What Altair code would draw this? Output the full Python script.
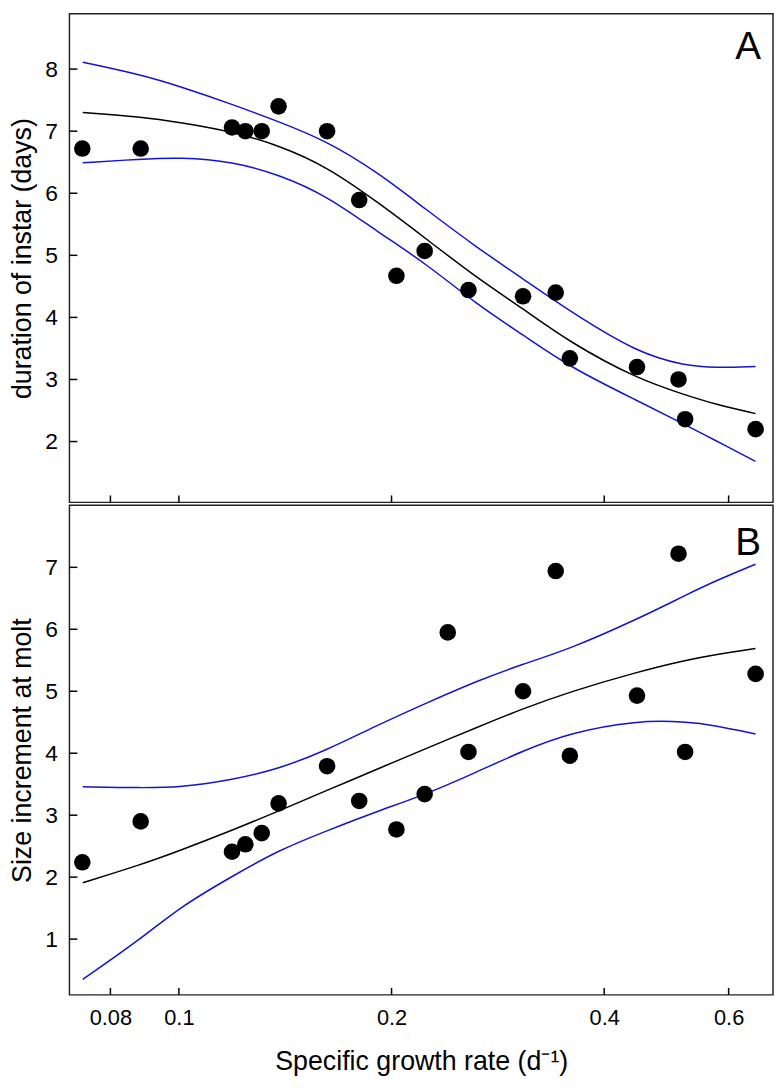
import altair as alt
import pandas as pd

FONT = "Liberation Sans"
BLUE = "#1414cc"

# ---- observed points ----
rate_a = [0.0730, 0.0883, 0.1189, 0.1242, 0.1310, 0.1384, 0.1621, 0.1800, 0.2032,
          0.2228, 0.2570, 0.3070, 0.3415, 0.3576, 0.4451, 0.5096, 0.5207, 0.6552]
dur_a = [6.72, 6.72, 7.06, 7.00, 7.00, 7.40, 7.00, 5.89, 4.67,
         5.07, 4.44, 4.34, 4.40, 3.34, 3.20, 3.00, 2.36, 2.20]

rate_b = [0.0730, 0.0883, 0.1189, 0.1242, 0.1310, 0.1384, 0.1621, 0.1800, 0.2032,
          0.2228, 0.2402, 0.2570, 0.3070, 0.3415, 0.3576, 0.4451, 0.5096, 0.5207, 0.6552]
size_b = [2.24, 2.90, 2.41, 2.53, 2.71, 3.19, 3.79, 3.23, 2.77,
          3.34, 5.95, 4.02, 5.00, 6.94, 3.96, 4.93, 7.22, 4.02, 5.28]

# ---- fitted curves and confidence bands ----
curve_rate = [0.0731, 0.0883, 0.1004, 0.1192, 0.1387, 0.1620, 0.1916, 0.2230,
              0.2646, 0.3070, 0.3573, 0.4451, 0.5213, 0.5744, 0.6550]
fit_a = [7.30, 7.23, 7.14, 6.99, 6.77, 6.43, 5.85, 5.28, 4.63, 4.14, 3.60, 3.01, 2.75, 2.60, 2.45]
upper_a = [8.11, 7.91, 7.72, 7.43, 7.15, 6.84, 6.33, 5.75, 5.12, 4.62, 4.10, 3.43, 3.22, 3.19, 3.21]
lower_a = [6.49, 6.55, 6.58, 6.51, 6.30, 5.96, 5.37, 4.88, 4.20, 3.72, 3.20, 2.66, 2.27, 2.02, 1.68]

fit_b = [1.91, 2.20, 2.43, 2.76, 3.07, 3.40, 3.75, 4.07, 4.42, 4.72, 4.99, 5.31, 5.50, 5.59, 5.69]
upper_b = [3.46, 3.44, 3.45, 3.57, 3.75, 4.05, 4.46, 4.80, 5.17, 5.44, 5.68, 6.16, 6.55, 6.78, 7.05]
lower_b = [0.35, 1.00, 1.52, 2.02, 2.44, 2.75, 3.07, 3.33, 3.70, 4.04, 4.33, 4.53, 4.51, 4.45, 4.31]

x_ticks = [0.08, 0.1, 0.2, 0.4, 0.6]
y_ticks_a = [2, 3, 4, 5, 6, 7, 8]
y_ticks_b = [1, 2, 3, 4, 5, 6, 7]

X_DOMAIN = [0.07, 0.6934]
W = 710


def panel(rates, values, fit, upper, lower, ydom, yticks, ytitle, letter, letter_y, h, show_x):
    xscale = alt.Scale(type="log", domain=X_DOMAIN, nice=False)
    yscale = alt.Scale(domain=ydom, nice=False, zero=False)
    if show_x:
        xaxis = alt.Axis(values=x_ticks, format=".2~f", ticks=False, domain=False, grid=False,
                         labelFontSize=22, labelPadding=13, labelColor="black", labelFont=FONT,
                         title="Specific growth rate (d\u207b\u00b9)", titleFontSize=27,
                         titleFontWeight="normal", titleColor="black", titleFont=FONT,
                         titlePadding=20)
    else:
        xaxis = None
    yaxis = alt.Axis(values=yticks, ticks=False, domain=False, grid=False,
                     labelFontSize=23, labelPadding=12, labelColor="black", labelFont=FONT,
                     title=ytitle, titleFontSize=27, titleFontWeight="normal",
                     titleColor="black", titleFont=FONT, titlePadding=8)
    X = alt.X("rate:Q", scale=xscale, axis=xaxis)
    Y = alt.Y("value:Q", scale=yscale, axis=yaxis)

    curves = pd.DataFrame({
        "rate": curve_rate * 3,
        "value": fit + upper + lower,
        "series": ["fit"] * len(curve_rate) + ["upper"] * len(curve_rate) + ["lower"] * len(curve_rate),
    })
    pts = pd.DataFrame({"rate": rates, "value": values})

    bands = alt.Chart(curves).transform_filter("datum.series != 'fit'").mark_line(
        color=BLUE, strokeWidth=1.5, interpolate="basis", clip=True
    ).encode(x=X, y=Y, detail="series:N")
    fitline = alt.Chart(curves).transform_filter("datum.series == 'fit'").mark_line(
        color="black", strokeWidth=1.5, interpolate="basis", clip=True
    ).encode(x=X, y=Y)
    dots = alt.Chart(pts).mark_circle(size=280, color="black", opacity=1).encode(x=X, y=Y)

    xt = alt.Chart(pd.DataFrame({"rate": x_ticks})).mark_rule(color="black", strokeWidth=1.5).encode(
        x=X, y=alt.value(h), y2=alt.value(h - 7))
    yt = alt.Chart(pd.DataFrame({"value": yticks})).mark_rule(color="black", strokeWidth=1.5).encode(
        y=Y, x=alt.value(0), x2=alt.value(8))
    lab = alt.Chart(pd.DataFrame({"label": [letter]})).mark_text(
        font=FONT, fontSize=39, align="right", baseline="alphabetic", color="black"
    ).encode(text="label:N", x=alt.value(W - 12), y=alt.value(letter_y))

    return alt.layer(bands, fitline, dots, xt, yt, lab).properties(width=W, height=h)


top = panel(rate_a, dur_a, fit_a, upper_a, lower_a, [1.02, 8.89], y_ticks_a,
            "duration of instar (days)", "A", 46, 493, False)
bottom = panel(rate_b, size_b, fit_b, upper_b, lower_b, [0.1, 8.0], y_ticks_b,
               "Size increment at molt", "B", 50, 494, True)

chart = alt.vconcat(top, bottom, spacing=0).properties(
    padding={"left": 0, "top": 0, "right": 0, "bottom": 0}
).configure(font=FONT).configure_view(stroke="#222222", strokeWidth=1.5)

chart.save("out.html", embed_options={"renderer": "svg", "actions": False})
